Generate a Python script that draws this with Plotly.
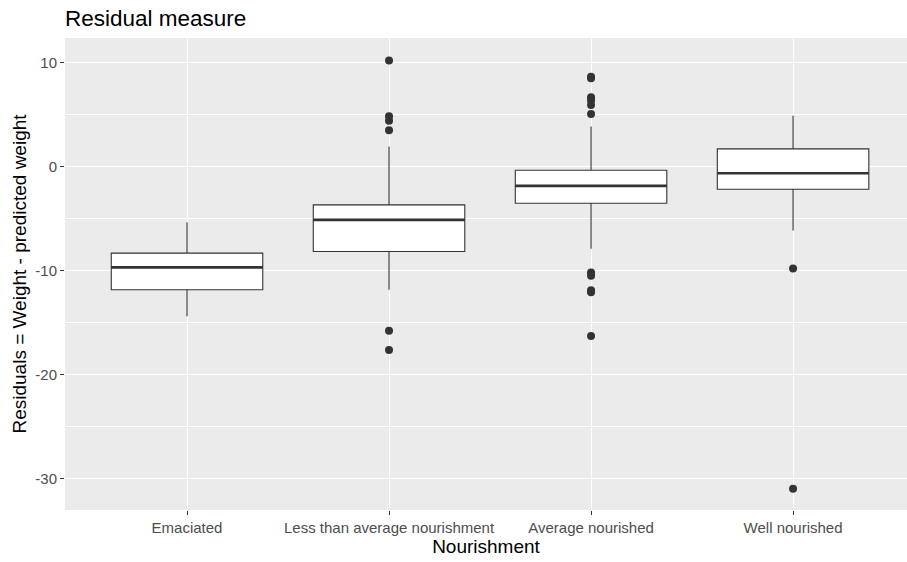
import plotly.graph_objects as go

categories = ["Emaciated", "Less than average nourishment", "Average nourished", "Well nourished"]
q1 = [-11.86, -8.17, -3.53, -2.18]
median = [-9.7, -5.13, -1.86, -0.64]
q3 = [-8.33, -3.69, -0.35, 1.7]
lower_whisker = [-14.4, -11.86, -7.92, -6.15]
upper_whisker = [-5.35, 1.92, 3.85, 4.9]

outlier_cat = (["Less than average nourishment"] * 6
               + ["Average nourished"] * 11
               + ["Well nourished"] * 2)
outlier_val = ([10.2, 4.85, 4.4, 3.5, -15.8, -17.66]
               + [8.65, 8.5, 6.67, 6.35, 5.93, 5.06, -10.2, -10.5, -11.9, -12.1, -16.3]
               + [-9.8, -31.0])

y_ticks = [10, 0, -10, -20, -30]

FONT = "Liberation Sans, Arial, sans-serif"

fig = go.Figure()
fig.add_trace(go.Box(
    x=categories, q1=q1, median=median, q3=q3,
    lowerfence=lower_whisker, upperfence=upper_whisker,
    fillcolor="white", line=dict(color="#333333", width=1.1),
    width=0.75, whiskerwidth=0, boxpoints=False, showlegend=False, hoverinfo="skip",
))
# thick median line (ggplot fatten)
fig.add_trace(go.Box(
    x=categories, q1=median, median=median, q3=median,
    lowerfence=median, upperfence=median,
    fillcolor="rgba(0,0,0,0)", line=dict(color="#333333", width=2.6),
    width=0.75, whiskerwidth=0, boxpoints=False, showlegend=False, hoverinfo="skip",
))
fig.add_trace(go.Scatter(
    x=outlier_cat, y=outlier_val, mode="markers",
    marker=dict(color="#333333", size=8),
    showlegend=False, hoverinfo="skip",
))

fig.update_layout(
    width=907, height=562,
    margin=dict(l=65, r=0, t=38, b=52, autoexpand=False),
    paper_bgcolor="white", plot_bgcolor="#EBEBEB",
    font=dict(family=FONT, color="#4D4D4D", size=15),
    title=dict(text="Residual measure", x=65 / 907, xanchor="left",
               y=1 - 18 / 562, yanchor="middle",
               font=dict(family=FONT, size=22.5, color="black")),
    boxmode="overlay",
    xaxis=dict(
        categoryorder="array", categoryarray=categories,
        range=[-0.604, 3.564], showgrid=True, gridcolor="white", gridwidth=1.1,
        zeroline=False, ticks="outside", ticklen=4, tickcolor="#333333",
        tickfont=dict(size=15, color="#4D4D4D"), automargin=False,
        title=dict(text="Nourishment", font=dict(size=19, color="black"), standoff=2),
    ),
    yaxis=dict(
        range=[-33.05, 12.37], tickvals=y_ticks, ticktext=[str(v) for v in y_ticks],
        showgrid=True, gridcolor="white", gridwidth=1.1, zeroline=False,
        ticks="outside", ticklen=4, tickcolor="#333333",
        tickfont=dict(size=15, color="#4D4D4D"), automargin=False,
        minor=dict(tickvals=[5, -5, -15, -25], showgrid=True, gridcolor="white", gridwidth=0.55, ticks=""),
        title=dict(text="Residuals = Weight - predicted weight", font=dict(size=19, color="black"), standoff=3),
    ),
)

fig.write_html("out.html", config={"displayModeBar": False},
               post_script="document.body.style.margin='0';")
